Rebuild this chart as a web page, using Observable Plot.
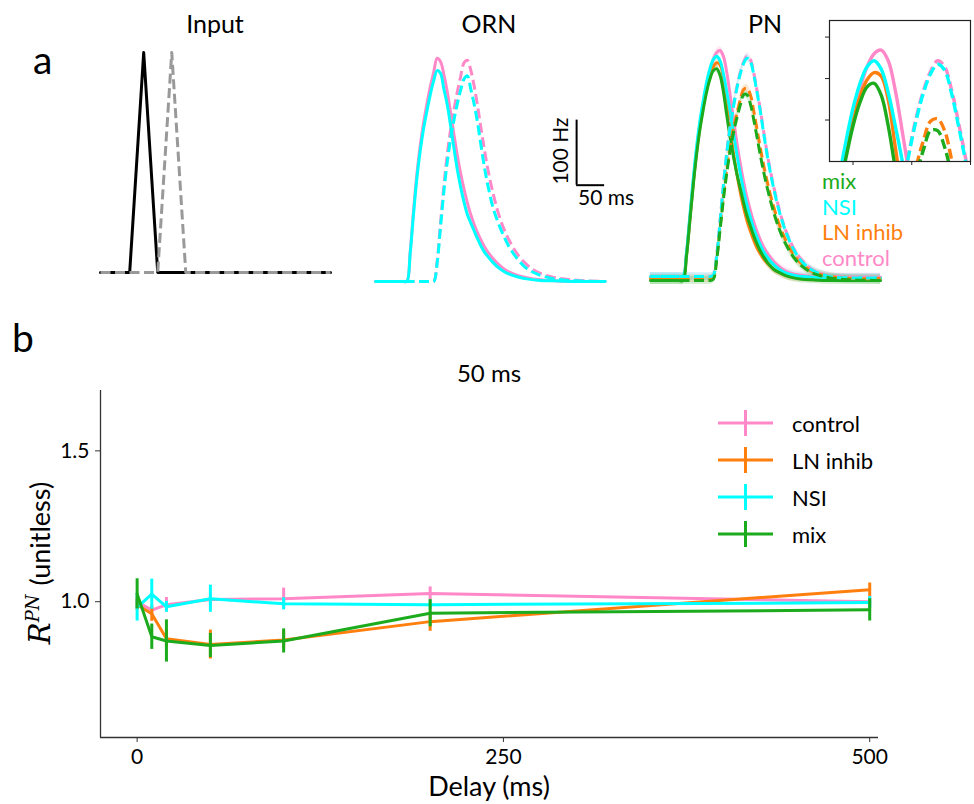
<!DOCTYPE html>
<html>
<head>
<meta charset="utf-8">
<script src="https://cdn.jsdelivr.net/npm/d3@7"></script>
<script src="https://cdn.jsdelivr.net/npm/@observablehq/plot@0.6"></script>
<style>
html,body{margin:0;padding:0;background:#fff;}
#fig{position:relative;width:974px;height:804px;overflow:hidden;background:#fff;}
#fig svg{overflow:visible;}
</style>
</head>
<body>
<div id="fig"></div>
<script>
// ---------------- data ----------------
// panel a: Input (arbitrary units, time in ms)
const inputTimeA = [0, 52, 77, 102, 410];
const inputValA  = [0, 0, 1, 0, 0];
const inputTimeB = [0, 102, 127, 152, 410];
const inputValB  = [0, 0, 1, 0, 0];

// panel a: ORN firing rate (Hz) vs time (ms)
const ornTime = [0, 50, 56, 62, 68, 74, 80, 86, 92, 98, 104, 110, 116, 122, 128, 134, 140, 146, 152, 158, 164, 170, 176, 182, 188, 194, 200, 210, 220, 230, 240, 255, 270, 290, 320, 360, 410];
const ornControlSolid = [0, 0, 0, 46, 110, 166, 210, 245, 274, 300, 322, 343, 338, 318, 292, 260, 226, 194, 166, 142, 121, 103, 88, 75, 64, 54, 46, 35, 26, 19, 14, 9, 6, 3, 1, 0, 0];
const ornNsiSolid     = [0, 0, 0, 44, 105, 160, 202, 236, 263, 288, 309, 324, 320, 296, 272, 240, 205, 172, 145, 122, 103, 90, 78, 66, 55, 46, 39, 29, 21, 15, 11, 7, 4, 2, 1, 0, 0];
const ornControlDash  = [0, 0, 0, 0, 0, 0, 0, 0, 0, 0, 0, 31, 89, 147, 195, 233, 264, 291, 315, 336, 340, 325, 301, 271, 237, 205, 175, 135, 103, 79, 61, 40, 26, 14, 6, 2, 0];
const ornNsiDash      = [0, 0, 0, 0, 0, 0, 0, 0, 0, 0, 0, 28, 83, 138, 183, 219, 248, 273, 294, 311, 316, 296, 273, 245, 211, 178, 150, 113, 88, 68, 51, 33, 20, 11, 4, 1, 0];

// panel a: PN firing rate (Hz) vs time (ms)
const pnTime = [0, 50, 58, 64, 70, 76, 82, 88, 94, 100, 106, 112, 118, 124, 130, 136, 142, 148, 154, 160, 166, 172, 178, 184, 190, 196, 202, 210, 220, 230, 240, 255, 270, 290, 320, 360, 410];
const pnControlSolid = [6, 6, 6, 40, 95, 150, 200, 240, 272, 300, 322, 340, 351, 354, 345, 320, 285, 248, 212, 180, 152, 128, 108, 90, 75, 62, 51, 40, 29, 21, 15, 10, 8, 6, 5, 5, 5];
const pnLnSolid      = [3, 3, 3, 38, 92, 148, 196, 236, 268, 294, 315, 329, 335, 332, 312, 272, 232, 196, 164, 136, 112, 92, 76, 62, 50, 41, 33, 25, 17, 12, 8, 5, 4, 3, 3, 3, 3];
const pnNsiSolid     = [6, 6, 6, 42, 98, 155, 205, 245, 277, 305, 326, 340, 345, 338, 318, 290, 260, 226, 194, 165, 139, 116, 97, 80, 66, 54, 44, 34, 24, 17, 12, 8, 6, 5, 4, 4, 4];
const pnMixSolid     = [0, 0, 0, 36, 90, 145, 193, 232, 263, 290, 310, 323, 326, 316, 290, 254, 220, 190, 164, 142, 120, 100, 84, 69, 56, 45, 36, 26, 17, 12, 8, 4, 2, 1, 0, 0, 0];
const pnControlDash  = [6, 6, 6, 6, 6, 6, 6, 6, 6, 6, 6, 8, 40, 92, 148, 198, 238, 270, 298, 320, 336, 345, 340, 320, 292, 262, 228, 186, 143, 108, 80, 50, 31, 16, 7, 5, 5];
const pnLnDash       = [3, 3, 3, 3, 3, 3, 3, 3, 3, 3, 3, 5, 35, 82, 130, 172, 208, 234, 257, 278, 294, 296, 286, 261, 232, 203, 176, 145, 112, 85, 64, 40, 25, 13, 6, 3, 3];
const pnNsiDash      = [6, 6, 6, 6, 6, 6, 6, 6, 6, 6, 6, 8, 38, 90, 146, 196, 236, 268, 296, 318, 334, 342, 337, 317, 289, 259, 225, 183, 140, 105, 78, 48, 29, 15, 6, 4, 4];
const pnMixDash      = [0, 0, 0, 0, 0, 0, 0, 0, 0, 0, 0, 2, 32, 78, 125, 166, 200, 228, 250, 270, 286, 286, 272, 248, 220, 192, 166, 136, 104, 78, 58, 36, 22, 11, 4, 1, 0];
const pnSpread = 6; // Hz, half-width of the faint shaded band

// scale bar (ms, Hz)
const scaleBarTime = [359, 409];
const scaleBarHz = [148, 248];

// inset ticks
const insetXTicks = [100, 150, 200];
const insetYTicks = [295, 330, 365];

// panel b
const groupNames  = ["control", "LN inhib", "NSI", "mix"];
const groupColors = ["#ff88c8", "#ff7f0e", "#00ffff", "#1cab1c"];
const delays = [0, 10, 20, 50, 100, 200, 500];
const rControl = [1.000, 0.972, 0.990, 1.007, 1.010, 1.027, 1.000];
const eControl = [0.015, 0.015, 0.024, 0.020, 0.035, 0.022, 0.020];
const rLn      = [0.990, 0.960, 0.877, 0.858, 0.873, 0.934, 1.040];
const eLn      = [0.020, 0.025, 0.030, 0.048, 0.030, 0.032, 0.022];
const rNsi     = [0.981, 1.025, 0.983, 1.010, 0.993, 0.990, 0.997];
const eNsi     = [0.045, 0.050, 0.018, 0.045, 0.020, 0.015, 0.020];
const rMix     = [1.026, 0.884, 0.870, 0.855, 0.870, 0.962, 0.973];
const eMix     = [0.050, 0.042, 0.070, 0.040, 0.040, 0.045, 0.037];
const xTicksB = [0, 250, 500];
const yTicksB = [1.0, 1.5];
const xDomainB = [-25, 506];
const yDomainB = [0.55, 1.7];

// ---------------- helpers ----------------
const fig = document.getElementById("fig");
const FONT = 'Lato, "DejaVu Sans", sans-serif';
const colorOf = Object.fromEntries(groupNames.map((g, i) => [g, groupColors[i]]));
function place(node, left, top) {
  node.style.position = "absolute";
  node.style.left = left + "px";
  node.style.top = top + "px";
  node.style.overflow = "visible";
  fig.appendChild(node);
}
function series(time, vals) { return time.map((t, i) => ({t, v: vals[i]})); }
const baseStyle = {background: "transparent", overflow: "visible", fontFamily: FONT};
const LW = 3, DASH = "10,4.5";

// ---------------- Input ----------------
const inputPlot = Plot.plot({
  width: 250, height: 245, marginLeft: 10, marginRight: 10, marginTop: 12, marginBottom: 13,
  style: baseStyle,
  x: {domain: [0, 410], axis: null},
  y: {domain: [0, 1], axis: null},
  marks: [
    Plot.line(series(inputTimeA, inputValA), {x: "t", y: "v", stroke: "#000", strokeWidth: LW}),
    Plot.line(series(inputTimeB, inputValB), {x: "t", y: "v", stroke: "#999", strokeWidth: LW, strokeDasharray: DASH, strokeLinecap: "butt"})
  ]
});
place(inputPlot, 90, 40);

// ---------------- ORN ----------------
const ornPlot = Plot.plot({
  width: 248, height: 251, marginLeft: 10, marginRight: 10, marginTop: 10, marginBottom: 10,
  style: baseStyle,
  x: {domain: [0, 407], axis: null},
  y: {domain: [0, 355], axis: null},
  marks: [
    Plot.line(series(ornTime, ornControlSolid), {x: "t", y: "v", stroke: colorOf["control"], strokeWidth: LW, curve: "catmull-rom"}),
    Plot.line(series(ornTime, ornControlDash), {x: "t", y: "v", stroke: colorOf["control"], strokeWidth: LW, curve: "catmull-rom", strokeDasharray: DASH, strokeLinecap: "butt"}),
    Plot.line(series(ornTime, ornNsiSolid), {x: "t", y: "v", stroke: colorOf["NSI"], strokeWidth: LW, curve: "catmull-rom"}),
    Plot.line(series(ornTime, ornNsiDash), {x: "t", y: "v", stroke: colorOf["NSI"], strokeWidth: LW, curve: "catmull-rom", strokeDasharray: DASH, strokeLinecap: "butt"}),
    Plot.ruleX([scaleBarTime[0]], {y1: scaleBarHz[0], y2: scaleBarHz[1], stroke: "#000", strokeWidth: 2}),
    Plot.ruleY([scaleBarHz[0]], {x1: scaleBarTime[0], x2: scaleBarTime[1], stroke: "#000", strokeWidth: 2})
  ]
});
place(ornPlot, 365, 40);

// ---------------- PN ----------------
const pnSeries = [
  {name: "control", solid: pnControlSolid, dash: pnControlDash},
  {name: "LN inhib", solid: pnLnSolid, dash: pnLnDash},
  {name: "NSI", solid: pnNsiSolid, dash: pnNsiDash},
  {name: "mix", solid: pnMixSolid, dash: pnMixDash}
];
function pnMarks(lw, clip, bands) {
  const m = [];
  if (bands) {
    pnSeries.forEach(s => {
      [s.solid, s.dash].forEach(vals => {
        m.push(Plot.areaY(series(pnTime, vals), {x: "t", y1: d => d.v - pnSpread, y2: d => d.v + pnSpread, fill: colorOf[s.name], fillOpacity: 0.18, curve: "catmull-rom"}));
      });
    });
  }
  pnSeries.forEach(s => {
    m.push(Plot.line(series(pnTime, s.solid), {x: "t", y: "v", stroke: colorOf[s.name], strokeWidth: lw, curve: "catmull-rom", clip}));
  });
  pnSeries.forEach(s => {
    m.push(Plot.line(series(pnTime, s.dash), {x: "t", y: "v", stroke: colorOf[s.name], strokeWidth: lw, curve: "catmull-rom", strokeDasharray: DASH, strokeLinecap: "butt", clip}));
  });
  return m;
}
const pnPlot = Plot.plot({
  width: 250, height: 250, marginLeft: 10, marginRight: 10, marginTop: 10, marginBottom: 10,
  style: baseStyle,
  x: {domain: [0, 410], axis: null},
  y: {domain: [0, 354], axis: null},
  marks: pnMarks(LW, false, true)
});
place(pnPlot, 640, 40);

// ---------------- inset ----------------
const insetPlot = Plot.plot({
  width: 161, height: 161, marginLeft: 10, marginRight: 10, marginTop: 10, marginBottom: 10,
  style: baseStyle,
  x: {domain: [80, 200]},
  y: {domain: [260, 379]},
  marks: [
    ...pnMarks(3.4, true, false),
    Plot.frame({stroke: "#222", strokeWidth: 1.2}),
    Plot.axisX({ticks: insetXTicks, tickFormat: () => "", tickSize: 4, label: null, stroke: "#222"}),
    Plot.axisY({ticks: insetYTicks, tickFormat: () => "", tickSize: 4, label: null, stroke: "#222"})
  ]
});
place(insetPlot, 819, 10);

// ---------------- panel b ----------------
const rVals = [rControl, rLn, rNsi, rMix];
const eVals = [eControl, eLn, eNsi, eMix];
const bRows = [];
groupNames.forEach((g, gi) => delays.forEach((d, i) => bRows.push({group: g, delay: d, r: rVals[gi][i], e: eVals[gi][i]})));
const bMarks = [];
groupNames.forEach(g => {
  const rs = bRows.filter(d => d.group === g);
  bMarks.push(Plot.line(rs, {x: "delay", y: "r", stroke: "group", strokeWidth: LW}));
  bMarks.push(Plot.ruleX(rs, {x: "delay", y1: d => d.r - d.e, y2: d => d.r + d.e, stroke: "group", strokeWidth: LW, strokeLinecap: "butt"}));
});
const bPlot = Plot.plot({
  width: 974, height: 424, marginLeft: 100, marginRight: 96, marginTop: 10, marginBottom: 67,
  style: {...baseStyle, fontSize: "21px"},
  x: {domain: xDomainB},
  y: {domain: yDomainB},
  color: {domain: groupNames, range: groupColors},
  marks: [
    Plot.axisY({ticks: yTicksB, tickFormat: d => d.toFixed(1), tickSize: 5, tickPadding: 6, fontSize: 21, label: null, stroke: "#333"}),
    Plot.axisX({ticks: xTicksB, tickSize: 5, tickPadding: 7, fontSize: 21, label: null, stroke: "#333"}),
    Plot.ruleX([xDomainB[0]], {stroke: "#333", strokeWidth: 1.3}),
    Plot.ruleY([yDomainB[0]], {stroke: "#333", strokeWidth: 1.3}),
    ...bMarks
  ]
});
place(bPlot, 0, 380);

// ---------------- annotation text overlay ----------------
const ov = d3.create("svg").attr("width", 974).attr("height", 804)
  .style("position", "absolute").style("left", "0px").style("top", "0px")
  .style("font-family", FONT).style("pointer-events", "none");
function txt(x, y, s, size, opts = {}) {
  const t = ov.append("text").attr("x", x).attr("y", y).attr("font-size", size)
    .attr("text-anchor", opts.anchor || "start").attr("fill", opts.fill || "#000").text(s);
  if (opts.rotate) t.attr("transform", `rotate(${opts.rotate},${x},${y})`);
  return t;
}
txt(33, 74, "a", 39);
txt(12, 352, "b", 39);
txt(215, 33, "Input", 25, {anchor: "middle"});
txt(489, 33, "ORN", 25, {anchor: "middle"});
txt(765, 33, "PN", 25, {anchor: "middle"});
txt(568, 151, "100 Hz", 21, {anchor: "middle", rotate: -90});
txt(578, 205, "50 ms", 21);
// PN legend (top to bottom: mix, NSI, LN inhib, control)
const pnLegendOrder = ["mix", "NSI", "LN inhib", "control"];
pnLegendOrder.forEach((g, i) => txt(822, 189 + i * 25.5, g, 22, {fill: colorOf[g]}));
// panel b title and labels
txt(489, 382, "50 ms", 24, {anchor: "middle"});
txt(489, 796, "Delay (ms)", 27, {anchor: "middle"});
const yl = ov.append("text").attr("transform", "translate(50,563) rotate(-90)").attr("text-anchor", "middle").attr("font-size", 27);
yl.append("tspan").attr("font-family", '"DejaVu Serif", "Liberation Serif", serif').attr("font-style", "italic").attr("font-size", 29).text("R");
yl.append("tspan").attr("font-family", '"DejaVu Serif", "Liberation Serif", serif').attr("font-style", "italic").attr("font-size", 18).attr("dy", -11).text("PN");
yl.append("tspan").attr("dy", 11).attr("dx", 9).text("(unitless)");
// panel b legend
groupNames.forEach((g, i) => {
  const y = 423 + i * 37;
  ov.append("line").attr("x1", 718).attr("x2", 773).attr("y1", y).attr("y2", y).attr("stroke", colorOf[g]).attr("stroke-width", LW);
  ov.append("line").attr("x1", 745.5).attr("x2", 745.5).attr("y1", y - 13).attr("y2", y + 13).attr("stroke", colorOf[g]).attr("stroke-width", LW);
  txt(792, y + 9, g, 22);
});
fig.appendChild(ov.node());
</script>
</body>
</html>
